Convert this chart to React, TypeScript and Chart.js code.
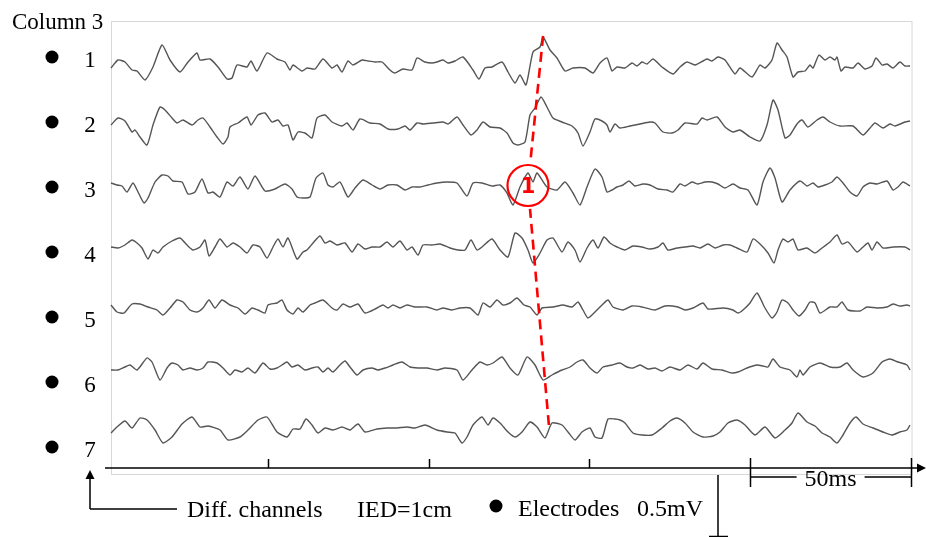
import React, { useEffect, useRef } from "react";
import { Chart, registerables } from "chart.js";

Chart.register(...registerables);

// ---- time base: samples -> ms ----
const SAMPLES_PER_MS = 3.216;
const SAMPLE_START = 3;
const toMs = (s: number) => (s + SAMPLE_START) / SAMPLES_PER_MS;

// x-axis tick marks (ms)
const TICKS_MS = [50, 100, 150, 200, 250];
const SCALE_TIME_LABEL = "50ms";
const SCALE_AMP_LABEL = "0.5mV";
const AMP_UNITS_PER_HALF_MV = 62;

const channelLabels = ["1", "2", "3", "4", "5", "6", "7"];
const columnTitle = "Column 3";

// channel 1
const s1 = [1,8,15,22,27,35,43,52,60,70,78,87,90,100,108,117,122,127,137,141,147,157,167,175,180,183,192,197,205,213,222,227,232,238,243,252,258,265,272,280,285,293,302,307,315,322,327,333,338,345,353,363,369,375,382,392,398,405,410,416,423,430,433,440,447,455,463,475,483,490,497,502,507,515,522,527,532,537,543,552,563,570,577,585,597,602,608,615,625,630,642,650,655,662,667,672,677,683,688,695,700,703,709,715,720,725,727,731,735,743,748,755,762,766,772,777,783,790,795,800];
const v1 = [-1,7,5,-3,-4,-13,0,22,7,-5,5,14,7,8,0,-12,-11,2,0,6,-4,14,8,5,-3,2,-4,-1,-2,8,-1,2,-5,6,2,7,6,5,5,-3,-6,-2,-3,9,5,4,5,7,4,6,10,-3,-12,-1,0,5,-5,-16,-8,-18,15,20,30,17,9,-4,-1,-1,-6,4,9,-4,0,-1,4,1,5,3,8,0,-7,0,5,2,8,6,10,7,-7,-1,-10,2,-1,7,24,17,10,-10,-5,-4,2,-1,12,7,10,7,10,-4,0,-1,4,-2,1,9,2,3,-1,5,1,1];

// channel 2
const s2 = [1,8,15,22,25,30,37,43,50,55,62,67,73,82,88,93,100,107,113,118,120,128,137,141,148,155,162,168,173,178,183,188,195,202,207,215,222,232,237,243,250,260,270,278,288,295,300,307,313,323,333,338,347,353,361,367,373,380,390,397,403,408,415,420,425,431,437,443,452,462,468,473,480,485,492,497,500,505,510,520,530,540,545,553,562,568,575,587,592,597,607,615,623,630,640,650,657,663,668,675,680,687,692,698,707,713,720,730,743,753,760,765,773,780,785,795,800];
const v2 = [0,7,4,-7,-5,-12,-20,0,18,15,7,2,5,0,5,7,-2,-12,-19,-12,-2,2,8,0,10,12,3,5,-1,0,-15,-7,-8,-13,7,10,3,-1,2,-5,6,2,1,-4,-4,-1,-5,2,1,2,3,1,8,0,-10,-5,3,-2,-3,-8,-18,-20,-17,10,17,28,18,7,3,-1,-8,-21,-7,6,4,0,-7,1,-3,-1,1,3,2,-7,-8,-5,2,1,7,5,8,-2,-7,-5,-12,-16,0,25,15,-13,-10,1,5,-2,5,8,3,-1,-1,-10,-3,2,-3,1,-1,3,4];

// channel 3
const s3 = [1,7,12,17,23,28,34,38,45,52,58,63,72,78,85,92,98,103,110,117,123,130,138,145,155,165,175,182,187,193,200,206,213,218,223,230,238,245,253,262,270,278,287,295,302,310,318,327,337,347,357,363,372,382,390,397,403,410,418,423,427,437,447,455,463,470,477,485,492,497,502,507,513,519,525,533,540,548,557,563,570,575,582,588,595,602,608,615,623,630,638,647,653,660,665,672,680,690,697,703,708,715,722,727,733,740,747,753,760,767,777,783,788,793,800];
const v3 = [3,1,0,-6,3,-6,-17,-12,4,11,10,5,4,-8,-6,7,-7,-6,-11,4,0,9,-3,10,-5,-3,2,-3,-11,-12,-11,8,13,1,-1,4,-11,-2,6,1,-3,1,1,-4,-1,-1,1,3,4,3,-10,3,3,0,1,-7,-19,-1,13,4,13,-1,-4,4,-7,-19,-1,17,9,-6,-4,-1,1,5,0,2,1,-3,-4,-6,2,0,4,2,4,4,2,-2,2,-2,-4,-19,4,18,8,-16,-4,5,0,3,-1,1,4,9,3,-6,-10,-1,3,2,5,-4,-1,4,0];

// channel 4
const s4 = [1,8,15,22,27,32,38,43,48,53,62,70,77,83,90,95,99,105,110,117,123,130,137,143,150,157,163,168,173,178,187,193,197,203,210,215,220,227,235,242,248,255,262,270,277,283,290,297,302,308,313,322,330,340,348,355,361,367,372,382,390,398,405,412,418,423,430,437,443,452,458,465,470,477,483,488,494,500,507,515,523,532,540,548,553,558,567,575,583,590,598,605,613,620,627,637,643,650,658,664,668,673,678,683,688,697,705,712,720,727,732,738,747,753,758,762,767,773,783,795,800];
const v4 = [0,-1,2,7,4,-1,-12,-3,-6,0,6,9,2,-3,0,7,-9,0,8,0,4,0,-6,2,0,-11,0,8,0,9,-12,-5,-3,4,11,4,6,2,4,-5,3,-2,0,0,5,0,6,-3,0,-8,2,2,3,-1,-3,-3,7,-3,0,8,-3,-10,14,9,-3,-16,-6,7,9,-5,5,-3,-15,-1,7,-1,10,4,0,-3,1,0,-2,0,4,-3,-1,0,1,-1,3,-1,2,2,-1,-5,8,3,-6,-16,-3,8,5,8,-3,-1,-6,-1,5,12,3,5,-5,0,4,-3,5,-1,0,0,-3];

// channel 5
const s5 = [1,7,14,22,30,38,47,53,60,67,73,80,87,93,99,105,112,120,128,135,142,148,155,158,167,172,177,183,188,193,200,205,213,222,227,233,240,248,255,267,273,278,283,290,297,305,317,327,333,342,350,360,368,373,380,387,393,400,407,414,420,427,432,443,453,462,468,473,478,485,492,498,503,513,522,532,545,555,568,575,583,593,598,613,623,628,633,640,647,655,662,667,672,678,683,689,695,700,705,710,720,727,732,738,750,757,767,777,783,790,797,800];
const v5 = [2,-5,-6,3,3,0,-3,-8,-1,7,5,-3,-5,-1,7,-1,7,2,-1,-7,-1,-3,-6,2,4,7,-3,-7,-1,-5,2,4,7,-1,-3,3,0,3,-6,-1,2,-1,2,-1,2,0,0,-3,-1,-3,-1,-1,-8,4,0,7,2,4,9,2,0,-8,-1,0,2,0,5,-3,-11,-5,2,7,0,-3,1,0,-3,1,0,-3,-1,4,-2,-1,-3,-6,-3,4,14,-1,-11,-5,7,4,-3,-9,-3,5,4,-6,0,0,5,-3,-4,0,-1,0,3,1,2,1];

// channel 6
const s6 = [1,8,15,20,27,37,42,50,57,62,68,73,80,87,93,98,107,113,120,125,132,138,145,153,160,167,172,177,182,188,195,202,208,213,218,223,230,235,240,247,253,262,268,275,283,292,300,308,317,327,335,347,353,362,370,377,383,392,400,408,417,425,433,442,452,460,467,473,480,487,493,502,510,517,523,530,538,545,552,560,570,578,587,593,602,612,622,628,637,647,653,658,663,670,680,687,690,693,700,710,720,730,737,743,753,763,772,780,788,797,800];
const v6 = [-2,-2,1,3,-2,10,6,-12,0,5,3,-2,0,-2,0,6,5,0,-7,-2,-4,0,-5,5,-1,0,3,6,1,3,-2,0,1,-4,0,-4,3,7,1,-7,-2,0,-2,0,3,6,1,0,0,-2,0,-2,-12,-2,6,3,5,11,0,-7,11,3,-12,-7,-2,1,6,8,0,-5,1,3,5,1,0,3,-1,0,-3,1,-2,3,-1,5,-1,-2,-5,-4,0,3,2,1,9,1,-2,-9,-2,-7,1,5,1,1,5,-2,-9,-5,6,9,6,3,-2];

// channel 7
const s7 = [1,7,15,22,30,37,45,53,62,72,82,90,98,110,118,130,138,148,157,167,177,183,190,196,202,208,215,223,232,240,248,255,267,277,287,297,305,315,327,337,345,352,357,363,372,378,383,390,398,405,412,420,427,435,442,452,458,465,472,480,485,492,498,505,510,515,523,532,542,552,560,567,575,583,593,603,610,618,627,635,645,655,665,675,682,688,697,705,712,720,727,733,740,746,753,763,773,782,790,797,800];
const v7 = [-3,3,9,2,12,10,0,-13,-7,6,13,3,4,0,-10,-7,0,10,13,-2,-7,1,1,11,5,-3,2,0,3,0,6,-2,1,2,2,3,2,5,0,-2,-3,-13,-7,5,13,5,12,7,-2,-7,-2,8,3,-8,7,5,-2,-10,-2,2,-7,-8,11,11,10,7,-3,-5,-5,2,9,12,7,-2,-7,-6,-2,7,10,5,-5,3,-8,0,7,17,8,4,-3,-7,-13,-5,7,13,6,2,-2,-5,-2,0,5];

const channelSamples = [s1, s2, s3, s4, s5, s6, s7];
const channelValues = [v1, v2, v3, v4, v5, v6, v7];
// vertical offset of each channel trace (amplitude units)
const channelOffsets = [407, 349, 288, 227, 167, 106, 44];

// propagation line annotation (ms, stacked amplitude units)
const annotMs = [135.6, 130.9, 137.4];
const annotVals = [438, 288.5, 49];
const annotLabel = "1";

const FONT = '"Liberation Serif", "Times New Roman", serif';

const overlay = {
  id: "overlay",
  beforeDatasetsDraw(chart: any) {
    const { ctx, chartArea, scales } = chart;
    const xs = scales.x;
    ctx.save();
    ctx.strokeStyle = "#d8d8d8";
    ctx.lineWidth = 1;
    const left = Math.round(xs.getPixelForValue(toMs(s1[0]))) + 0.5;
    ctx.strokeRect(left, chartArea.top + 0.5, chartArea.right + 1 - left, chartArea.bottom - chartArea.top);
    ctx.restore();
  },
  afterDatasetsDraw(chart: any) {
    const { ctx, chartArea, scales } = chart;
    const xs = scales.x;
    const ys = scales.y;
    ctx.save();

    // ---- red propagation annotation ----
    const pts = annotMs.map((m, i) => ({ x: xs.getPixelForValue(m), y: ys.getPixelForValue(annotVals[i]) }));
    const c = pts[1];
    const r = 20.5;
    ctx.strokeStyle = "#ff0000";
    ctx.lineWidth = 2.6;
    ctx.setLineDash([10, 6]);
    const seg = (a: any, b: any) => {
      const dx = b.x - a.x, dy = b.y - a.y;
      const len = Math.hypot(dx, dy);
      const ex = b.x - (dx / len) * (r + 3);
      const ey = b.y - (dy / len) * (r + 3);
      ctx.beginPath();
      ctx.moveTo(a.x, a.y);
      ctx.lineTo(ex, ey);
      ctx.stroke();
    };
    seg(pts[0], c);
    seg(pts[2], c);
    ctx.setLineDash([]);
    ctx.lineWidth = 2.2;
    ctx.beginPath();
    ctx.arc(c.x, c.y, r, 0, Math.PI * 2);
    ctx.stroke();
    ctx.fillStyle = "#ff0000";
    ctx.font = `bold 21px "DejaVu Sans", sans-serif`;
    ctx.textAlign = "center";
    ctx.textBaseline = "middle";
    ctx.fillText(annotLabel, c.x, c.y + 2);

    // ---- x axis ----
    const axisY = ys.getPixelForValue(6);
    ctx.strokeStyle = "#000";
    ctx.fillStyle = "#000";
    ctx.lineWidth = 1.5;
    ctx.beginPath();
    ctx.moveTo(105, axisY);
    ctx.lineTo(919, axisY);
    ctx.stroke();
    ctx.beginPath();
    ctx.moveTo(926, axisY);
    ctx.lineTo(917, axisY - 4.5);
    ctx.lineTo(917, axisY + 4.5);
    ctx.closePath();
    ctx.fill();

    TICKS_MS.forEach((t, i) => {
      const px = Math.round(xs.getPixelForValue(t)) + 0.5;
      ctx.beginPath();
      if (i < TICKS_MS.length - 2) {
        ctx.moveTo(px, axisY - 9);
        ctx.lineTo(px, axisY);
      } else {
        ctx.moveTo(px, axisY - 10);
        ctx.lineTo(px, axisY + 19);
      }
      ctx.stroke();
    });
    // 50 ms bracket
    const bx0 = xs.getPixelForValue(TICKS_MS[TICKS_MS.length - 2]);
    const bx1 = xs.getPixelForValue(TICKS_MS[TICKS_MS.length - 1]);
    const by = axisY + 9;
    ctx.font = `24px ${FONT}`;
    ctx.textAlign = "center";
    ctx.textBaseline = "alphabetic";
    const mid = (bx0 + bx1) / 2;
    const tw = ctx.measureText(SCALE_TIME_LABEL).width;
    ctx.beginPath();
    ctx.moveTo(bx0, by);
    ctx.lineTo(mid - tw / 2 - 8, by);
    ctx.moveTo(mid + tw / 2 + 8, by);
    ctx.lineTo(bx1, by);
    ctx.stroke();
    ctx.fillText(SCALE_TIME_LABEL, mid, by + 9);

    // amplitude scale bar (0.5 mV)
    const barTop = chartArea.bottom + 1;
    const barH = ys.getPixelForValue(0) - ys.getPixelForValue(AMP_UNITS_PER_HALF_MV);
    ctx.beginPath();
    ctx.moveTo(718, barTop);
    ctx.lineTo(718, barTop + barH);
    ctx.moveTo(709, barTop + barH - 0.5);
    ctx.lineTo(728, barTop + barH - 0.5);
    ctx.stroke();

    // ---- legend row ----
    ctx.beginPath();
    ctx.moveTo(90, 509);
    ctx.lineTo(90, 478);
    ctx.moveTo(90, 509);
    ctx.lineTo(177, 509);
    ctx.stroke();
    ctx.beginPath();
    ctx.moveTo(90, 470);
    ctx.lineTo(85.5, 479);
    ctx.lineTo(94.5, 479);
    ctx.closePath();
    ctx.fill();

    ctx.textAlign = "left";
    ctx.font = `24px ${FONT}`;
    ctx.fillText("Diff. channels", 187, 517);
    ctx.fillText("IED=1cm", 357, 517);
    ctx.beginPath();
    ctx.arc(496, 506, 6.5, 0, Math.PI * 2);
    ctx.fill();
    ctx.fillText("Electrodes", 518, 516);
    ctx.fillText(SCALE_AMP_LABEL, 637, 516);

    // ---- left labels ----
    ctx.font = `23px ${FONT}`;
    ctx.fillText(columnTitle, 12, 29);
    channelLabels.forEach((lab, i) => {
      const cy = 57 + i * 65;
      ctx.beginPath();
      ctx.arc(52, cy, 6.5, 0, Math.PI * 2);
      ctx.fill();
      ctx.textAlign = "center";
      ctx.fillText(lab, 90, cy + 10);
      ctx.textAlign = "left";
    });

    ctx.restore();
  },
};

export default function App() {
  const ref = useRef<HTMLCanvasElement | null>(null);
  useEffect(() => {
    if (!ref.current) return;
    const datasets = channelSamples.map((s, k) => ({
      label: channelLabels[k],
      data: s.map((n, i) => ({ x: toMs(n), y: channelOffsets[k] + channelValues[k][i] })),
      borderColor: "#555555",
      borderWidth: 1.4,
      pointRadius: 0,
      tension: 0.2,
      fill: false,
    }));
    const chart = new Chart(ref.current, {
      type: "line",
      data: { datasets },
      options: {
        animation: false,
        responsive: false,
        events: [],
        layout: { padding: { left: 107, right: 15, top: 21, bottom: 63 } },
        scales: {
          x: { type: "linear", min: 0, max: 250, display: false },
          y: { type: "linear", min: 0, max: 453, display: false },
        },
        plugins: { legend: { display: false }, tooltip: { enabled: false } },
      },
      plugins: [overlay],
    } as any);
    return () => chart.destroy();
  }, []);
  return (
    <div style={{ position: "absolute", left: 0, top: 0, width: 926, height: 537, background: "#fff" }}>
      <canvas ref={ref} width={926} height={537} style={{ display: "block" }} />
    </div>
  );
}
